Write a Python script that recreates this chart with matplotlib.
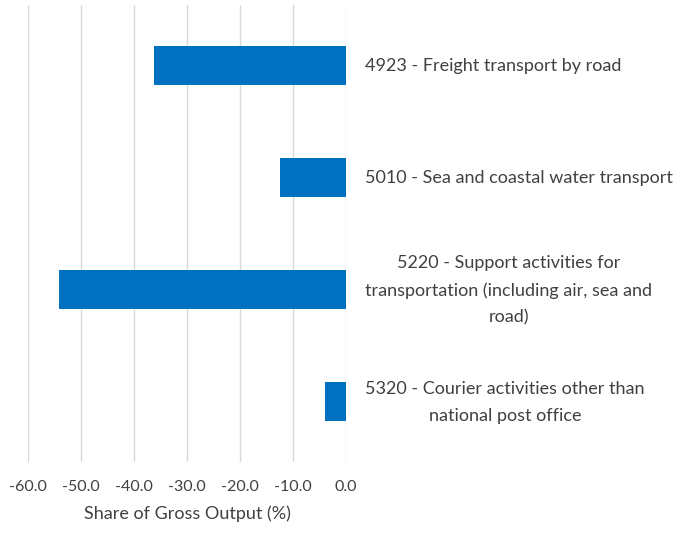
import numpy as np
import matplotlib.pyplot as plt

categories = [
    "4923 - Freight transport by road",
    "5010 - Sea and coastal water transport",
    "5220 - Support activities for\ntransportation (including air, sea and\nroad)",
    "5320 - Courier activities other than\nnational post office",
]
values = [-36.3, -12.4, -54.1, -3.9]
ticks = [-60, -50, -40, -30, -20, -10, 0]

plt.rcParams['font.family'] = ['Lato', 'DejaVu Sans']
txt_color = '#404040'

fig = plt.figure(figsize=(6.81, 5.38), dpi=100)
ax = fig.add_axes([28 / 681, 76 / 538, 318 / 681, 457 / 538])

y = np.arange(len(categories))
ax.barh(y, values, height=0.35, color='#0070C0', zorder=3)

ax.set_xlim(-60, 0)
ax.set_ylim(3.54, -0.54)
ax.set_xticks(ticks)
ax.set_xticklabels([f"{t:.1f}" for t in ticks], fontsize=11.5, color=txt_color)
ax.tick_params(axis='x', length=0, pad=13)
ax.set_yticks([])
ax.grid(axis='x', color='#d9d9d9', linewidth=1, zorder=0)
for s in ax.spines.values():
    s.set_visible(False)

ax.set_xlabel("Share of Gross Output (%)", fontsize=13, color=txt_color, labelpad=8)

# category labels sit right of the zero line
for yi, lab in zip(y, categories):
    ax.annotate(lab, xy=(0, yi), xycoords='data', xytext=(19, -1), textcoords='offset pixels',
                ha='left', va='center', multialignment='center', fontsize=13,
                color=txt_color, linespacing=1.8, annotation_clip=False)

fig.savefig("out.png", dpi=100)
